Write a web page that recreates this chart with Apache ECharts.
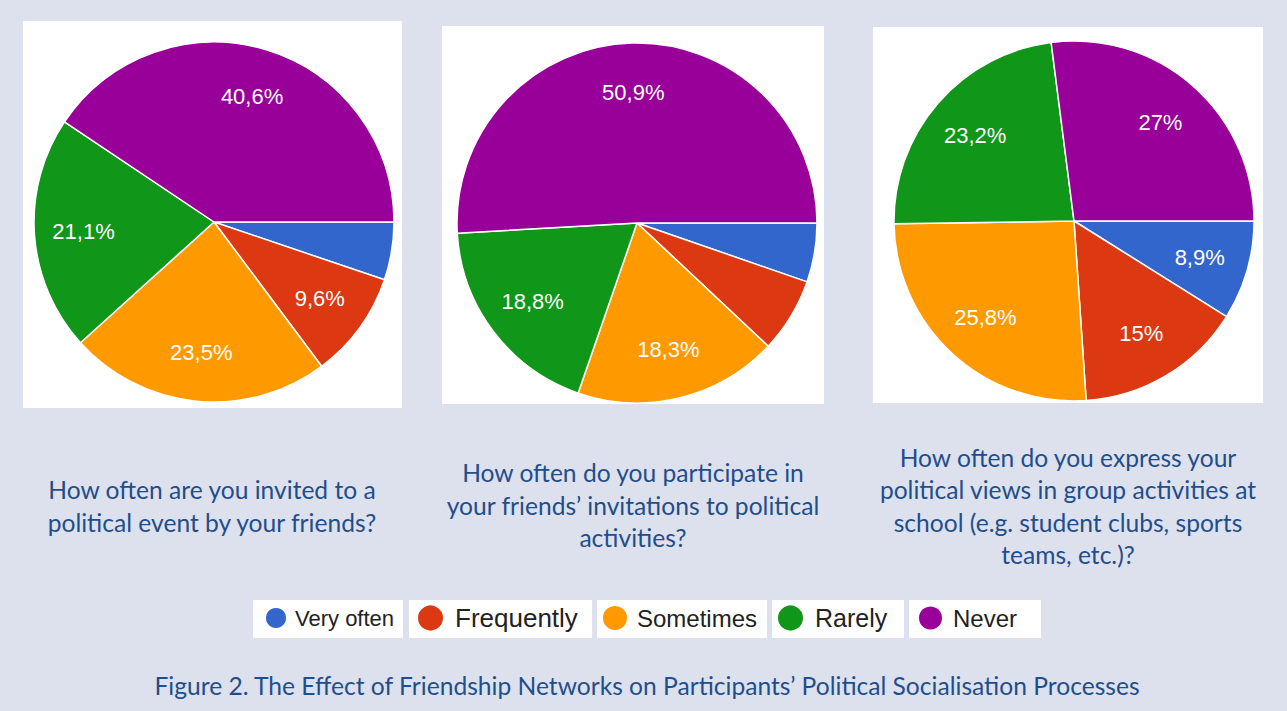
<!DOCTYPE html>
<html>
<head>
<meta charset="utf-8">
<script src="https://cdn.jsdelivr.net/npm/echarts@6/dist/echarts.min.js"></script>
<style>
html,body{margin:0;padding:0;background:#dde1ee;}
#chart{width:1287px;height:711px;}
</style>
</head>
<body>
<div id="chart"></div>
<script>
// ---- data ----
const categories = ['Very often', 'Frequently', 'Sometimes', 'Rarely', 'Never'];
const colors = ['#3366cc', '#dc3912', '#ff9900', '#109618', '#990099'];
const invitedValues = [5.2, 9.6, 23.5, 21.1, 40.6];
const participateValues = [5.3, 6.7, 18.3, 18.8, 50.9];
const expressValues = [8.9, 15, 25.8, 23.2, 27];
const questions = [
  'How often are you invited to a\npolitical event by your friends?',
  'How often do you participate in\nyour friends\u2019 invitations to political\nactivities?',
  'How often do you express your\npolitical views in group activities at\nschool (e.g. student clubs, sports\nteams, etc.)?'
];
const figureCaption = 'Figure 2. The Effect of Friendship Networks on Participants\u2019 Political Socialisation Processes';

// ---- layout ----
const pies = [
  {values: invitedValues, center: [214, 222], box: [23, 21, 379, 387], caption: [212, 506]},
  {values: participateValues, center: [637, 223], box: [442, 26, 382, 378], caption: [633, 505]},
  {values: expressValues, center: [1074, 221], box: [873, 27, 390, 376], caption: [1068, 506]}
];
const R = 180;
const labelThreshold = 7;
const legendLayout = [
  {box: [253, 600, 150, 38], dot: 22, left: 264, fs: 22, pad: 3},
  {box: [409, 600, 183, 38], dot: 27, left: 416, fs: 26, pad: 6},
  {box: [597, 600, 170, 38], dot: 26, left: 601, fs: 24, pad: 4},
  {box: [772, 600, 132, 38], dot: 27, left: 776, fs: 25, pad: 6},
  {box: [909, 600, 132, 38], dot: 25, left: 917, fs: 24, pad: 5}
];
const dotCenterY = 617;
const captionFont = '24.6px Lato, Carlito, sans-serif';

function fmt(v) { return String(v).replace('.', ',') + '%'; }

const series = [];
const graphic = [];
pies.forEach((p, i) => {
  const data = categories.map((c, k) => ({name: c, value: p.values[k]}));
  graphic.push({type: 'rect', shape: {x: p.box[0], y: p.box[1], width: p.box[2], height: p.box[3]},
    style: {fill: '#ffffff'}, z: -10, silent: true});
  series.push({
    type: 'pie', name: 'pie' + i, center: p.center, radius: [0, R],
    startAngle: 0, clockwise: true, avoidLabelOverlap: false,
    color: colors, data: data,
    itemStyle: {borderColor: '#ffffff', borderWidth: 1.5},
    label: {show: false}, labelLine: {show: false},
    emphasis: {scale: false}
  });
  series.push({
    type: 'pie', name: 'lbl' + i, center: p.center, radius: [R * 0.42, R],
    startAngle: 0, clockwise: true, avoidLabelOverlap: false, silent: true,
    data: data,
    itemStyle: {color: 'rgba(0,0,0,0)', borderWidth: 0},
    label: {show: true, position: 'inside', color: '#ffffff', fontSize: 22,
      fontFamily: 'Liberation Sans, Arial, sans-serif',
      formatter: (d) => d.value >= labelThreshold ? fmt(d.value) : ''},
    labelLine: {show: false},
    emphasis: {disabled: true},
    tooltip: {show: false}
  });
  graphic.push({type: 'text', x: p.caption[0], y: p.caption[1], silent: true,
    style: {text: questions[i], fill: '#1f4e8c', font: captionFont,
      align: 'center', verticalAlign: 'middle', lineHeight: 32.5}});
});

const legends = legendLayout.map((L, k) => {
  graphic.push({type: 'rect', shape: {x: L.box[0], y: L.box[1], width: L.box[2], height: L.box[3]},
    style: {fill: '#ffffff'}, z: -10, silent: true});
  return {
    data: [{name: categories[k], icon: 'circle'}],
    left: L.left, top: dotCenterY - L.dot / 2, padding: 0,
    itemWidth: L.dot, itemHeight: L.dot,
    textStyle: {fontSize: L.fs, color: '#222222', fontFamily: 'Liberation Sans, Arial, sans-serif',
      padding: [0, 0, 0, L.pad]}
  };
});

graphic.push({type: 'text', x: 647, y: 685, silent: true,
  style: {text: figureCaption, fill: '#1f4e8c', font: captionFont,
    align: 'center', verticalAlign: 'middle'}});

const chart = echarts.init(document.getElementById('chart'), null, {renderer: 'svg'});
chart.setOption({
  backgroundColor: '#dde1ee',
  animation: false,
  color: colors,
  tooltip: {trigger: 'item', formatter: (d) => d.name + ': ' + fmt(d.value)},
  legend: legends,
  graphic: graphic,
  series: series
});
</script>
</body>
</html>
